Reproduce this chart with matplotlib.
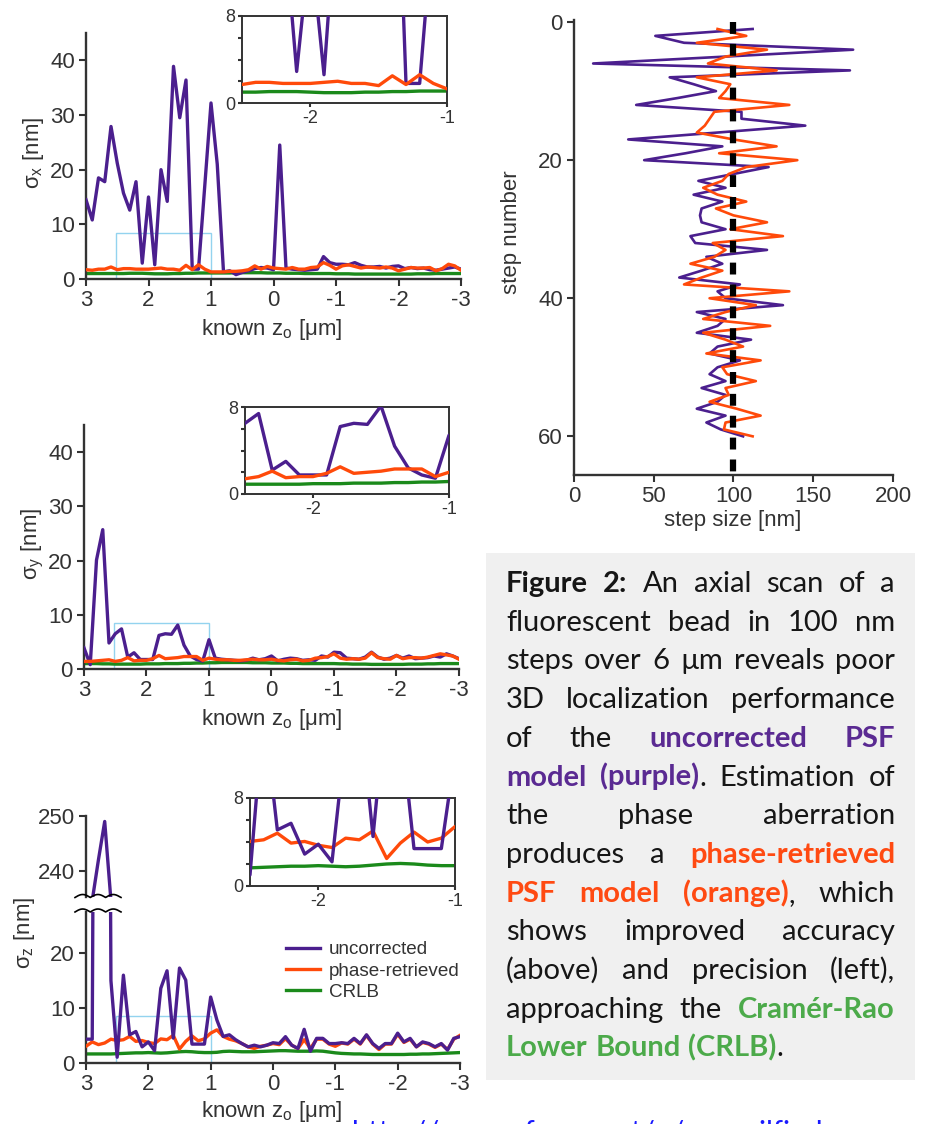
import numpy as np
import matplotlib
matplotlib.use('Agg')
import matplotlib.pyplot as plt
from matplotlib.patches import Rectangle
from matplotlib.lines import Line2D

W, H = 928, 1124

# known z positions, 100 nm steps from 3 to -3 um
z = np.round(np.linspace(3, -3, 61), 1)

sx_unc = [14.5, 10.8, 18.5, 17.8, 27.9, 21.2, 15.7, 12.6, 17.8, 2.9,
          15.0, 2.6, 20.0, 14.2, 38.9, 29.5, 36.4, 1.8, 1.8, 17.0,
          32.2, 21.0, 1.3, 1.5, 0.8, 1.2, 1.5, 1.9, 2.1, 2.0,
          1.7, 24.5, 2.0, 1.8, 1.7, 1.6, 1.7, 1.8, 4.1, 3.0,
          2.7, 2.7, 2.6, 3.0, 2.5, 2.2, 2.2, 2.3, 2.0, 2.3,
          2.4, 1.9, 2.1, 1.9, 2.0, 1.7, 1.6, 1.8, 2.0, 2.2, 1.8]
sx_pr = [1.7, 1.6, 1.8, 1.8, 2.2, 1.7, 1.9, 1.9, 1.8, 1.8,
         1.8, 1.9, 2.0, 1.8, 1.8, 1.6, 2.5, 1.7, 2.6, 1.8,
         1.3, 1.3, 1.3, 1.4, 1.4, 1.5, 1.7, 2.4, 1.8, 2.3,
         2.0, 1.9, 1.8, 2.1, 1.8, 1.8, 2.1, 2.2, 3.0, 2.5,
         1.8, 2.4, 2.6, 2.3, 2.0, 2.2, 2.1, 2.0, 2.2, 2.0,
         1.5, 1.8, 2.1, 2.0, 2.0, 2.1, 1.5, 1.9, 2.7, 2.4, 1.6]
sx_crlb = [1.0, 1.0, 1.0, 1.0, 1.0, 1.0, 1.0, 1.05, 1.05, 1.05,
           1.0, 0.95, 0.95, 0.95, 1.0, 1.0, 1.05, 1.05, 1.1, 1.1,
           1.1, 1.1, 1.1, 1.1, 1.15, 1.15, 1.15, 1.15, 1.15, 1.1,
           1.1, 1.1, 1.05, 1.05, 1.05, 1.0, 1.0, 1.0, 1.0, 1.0,
           0.95, 0.95, 0.95, 0.9, 0.9, 0.9, 0.9, 0.9, 0.9, 0.9,
           0.9, 0.9, 0.9, 0.95, 0.95, 0.95, 1.0, 1.0, 1.0, 1.0, 1.0]

sy_unc = [3.9, 0.8, 20.1, 25.7, 4.8, 6.5, 7.4, 2.2, 3.0, 1.75,
          1.75, 1.75, 6.2, 6.5, 6.4, 8.1, 4.4, 2.4, 1.75, 1.45,
          5.4, 2.0, 1.8, 1.7, 1.6, 1.5, 1.6, 2.0, 1.7, 1.9,
          2.4, 1.5, 1.8, 2.0, 1.9, 1.6, 1.7, 1.6, 2.4, 2.2,
          3.1, 3.0, 2.0, 1.9, 1.8, 2.2, 3.1, 2.2, 1.8, 2.0,
          2.5, 2.0, 2.4, 1.9, 2.0, 2.1, 2.4, 2.2, 2.8, 2.4, 1.9]
sy_pr = [1.4, 1.4, 1.5, 1.6, 1.7, 1.4, 1.6, 2.1, 1.5, 1.6,
         1.6, 1.9, 2.5, 1.9, 2.0, 2.1, 2.3, 2.3, 2.3, 1.6,
         2.0, 1.8, 1.7, 1.7, 1.6, 1.6, 1.7, 1.8, 1.7, 1.7,
         1.8, 1.6, 1.5, 1.7, 1.8, 1.5, 1.6, 2.0, 2.1, 2.3,
         2.8, 2.0, 1.8, 1.9, 1.8, 2.0, 3.0, 2.1, 1.9, 1.8,
         2.5, 1.9, 2.1, 2.1, 2.0, 2.2, 2.5, 2.8, 2.6, 2.4, 1.8]
sy_crlb = [1.0, 1.0, 1.0, 0.95, 0.95, 0.9, 0.9, 0.9, 0.9, 0.9,
           0.95, 0.95, 0.95, 1.0, 1.0, 1.0, 1.05, 1.05, 1.1, 1.1,
           1.15, 1.15, 1.2, 1.2, 1.2, 1.2, 1.2, 1.15, 1.15, 1.15,
           1.1, 1.1, 1.1, 1.05, 1.05, 1.0, 1.0, 1.0, 1.0, 1.0,
           1.0, 0.95, 0.95, 0.9, 0.9, 0.9, 0.85, 0.85, 0.85, 0.85,
           0.85, 0.85, 0.9, 0.9, 0.9, 0.95, 0.95, 1.0, 1.0, 1.0, 1.0]

sz_unc = [4.3, 4.3, 242.0, 249.0, 15.0, 1.0, 16.0, 5.1, 5.7, 2.9,
          3.8, 2.2, 13.6, 16.8, 4.5, 17.3, 15.1, 3.4, 3.4, 3.4,
          12.0, 7.8, 4.8, 5.1, 4.2, 3.5, 2.9, 3.2, 2.9, 3.2,
          3.65, 3.5, 4.76, 3.2, 2.6, 6.1, 2.1, 4.45, 4.45, 3.5,
          3.5, 3.65, 3.5, 4.45, 3.5, 5.1, 3.5, 2.6, 3.5, 3.5,
          5.4, 3.8, 4.45, 2.9, 3.8, 3.5, 2.9, 3.5, 2.3, 4.45, 4.76]
sz_pr = [3.0, 3.8, 3.3, 3.6, 4.3, 4.05, 4.2, 4.8, 3.9, 4.05,
         3.7, 3.5, 4.35, 4.2, 5.0, 2.5, 3.9, 4.9, 4.0, 4.35,
         5.4, 6.0, 4.8, 4.3, 4.0, 3.5, 2.9, 2.6, 3.0, 3.2,
         3.5, 3.3, 4.4, 3.2, 2.6, 4.2, 2.6, 4.3, 4.3, 3.4,
         3.0, 3.6, 3.4, 4.3, 3.4, 5.0, 3.4, 2.4, 3.4, 3.4,
         5.2, 3.7, 4.3, 2.9, 3.7, 3.4, 2.8, 3.4, 2.4, 4.3, 5.0]
sz_crlb = [1.6, 1.6, 1.6, 1.6, 1.6, 1.65, 1.7, 1.75, 1.8, 1.8,
           1.85, 1.8, 1.75, 1.8, 1.9, 2.0, 2.05, 2.0, 1.9, 1.85,
           1.85, 1.9, 2.05, 2.1, 2.05, 2.0, 2.0, 2.0, 2.05, 2.1,
           2.15, 2.2, 2.2, 2.15, 2.1, 2.1, 2.1, 2.15, 2.1, 1.95,
           1.8, 1.7, 1.65, 1.6, 1.6, 1.55, 1.5, 1.5, 1.5, 1.5,
           1.5, 1.5, 1.55, 1.55, 1.6, 1.6, 1.65, 1.7, 1.75, 1.8, 1.85]

# axial scan step sizes
steps = np.arange(1, 61)
step_unc = [112, 51, 69, 175, 95, 12, 173, 60, 75, 89,
            65, 39, 105, 105, 145, 90, 34, 93, 70, 44,
            122, 100, 78, 95, 75, 93, 80, 79, 80, 95,
            73, 76, 121, 83, 93, 80, 66, 104, 90, 95,
            131, 77, 95, 90, 77, 111, 90, 85, 104, 90,
            85, 95, 80, 95, 90, 77, 95, 83, 92, 106]
step_pr = [90, 108, 77, 121, 95, 84, 127, 77, 98, 95,
           91, 135, 88, 85, 82, 77, 100, 127, 91, 140,
           108, 97, 93, 81, 90, 108, 89, 100, 121, 98,
           131, 87, 95, 88, 73, 93, 80, 69, 135, 85,
           114, 95, 81, 123, 81, 95, 106, 83, 117, 93,
           96, 114, 95, 97, 85, 102, 117, 95, 94, 112]

xticks = [3, 2, 1, 0, -1, -2, -3]

PURPLE = '#4b1f8e'
ORANGE = '#ff4a0a'
GREEN = '#1b8a1b'
CYAN = '#93d3ef'
DARK = '#333333'
LW = 2.4
FS = 16

plt.rcParams['font.family'] = ['Liberation Sans', 'DejaVu Sans']
plt.rcParams['mathtext.default'] = 'regular'
plt.rcParams['axes.unicode_minus'] = False

fig = plt.figure(figsize=(W / 100, H / 100), dpi=100)


def box(l, t, r, b):
    return [l / W, 1 - b / H, (r - l) / W, (b - t) / H]


def style(ax, spines=('left', 'bottom'), size=FS, lw=1.7):
    for s in ax.spines:
        ax.spines[s].set_visible(s in spines)
        ax.spines[s].set_linewidth(lw)
        ax.spines[s].set_color(DARK)
    ax.tick_params(direction='out', length=5, width=1.5, colors=DARK,
                   labelsize=size, pad=3)
    ax.patch.set_alpha(0)


def draw_lines(ax, x, unc, pr, crlb, purple_top=False):
    ax.plot(x, crlb, color=GREEN, lw=LW, zorder=2)
    if purple_top:
        ax.plot(x, pr, color=ORANGE, lw=LW, zorder=3)
        ax.plot(x, unc, color=PURPLE, lw=LW, zorder=4)
    else:
        ax.plot(x, unc, color=PURPLE, lw=LW, zorder=3)
        ax.plot(x, pr, color=ORANGE, lw=LW, zorder=4)


def main_panel(rect, unc, pr, crlb, ylim, yticks, purple_top=False):
    ax = fig.add_axes(box(*rect))
    draw_lines(ax, z, unc, pr, crlb, purple_top)
    ax.add_patch(Rectangle((1.0, 0), 1.52, 8.5, fill=False, ec=CYAN,
                           lw=1.0, zorder=1.5))
    ax.set_xlim(3, -3)
    ax.set_ylim(*ylim)
    ax.set_xticks(xticks)
    ax.set_yticks(yticks)
    style(ax)
    return ax


def inset(rect, unc, pr, crlb, purple_top=False):
    ax = fig.add_axes(box(*rect))
    draw_lines(ax, -z, unc, pr, crlb, purple_top)
    ax.set_xlim(-2.5, -1)
    ax.set_ylim(0, 8)
    ax.set_xticks([-2, -1])
    ax.set_yticks([0, 2, 4, 6, 8])
    ax.set_yticklabels(['0', '', '', '', '8'])
    style(ax, spines=('left', 'bottom', 'right', 'top'), size=13, lw=1.4)
    ax.tick_params(length=3, pad=2)
    ax.patch.set_alpha(1)
    ax.patch.set_facecolor('white')
    return ax


# sigma x
main_panel((86, 33, 461, 279), sx_unc, sx_pr, sx_crlb, (0, 45), [0, 10, 20, 30, 40])
inset((242, 16, 447, 103), sx_unc, sx_pr, sx_crlb)

# sigma y
main_panel((84, 425, 459, 669), sy_unc, sy_pr, sy_crlb, (0, 45), [0, 10, 20, 30, 40])
inset((245, 407, 449, 494), sy_unc, sy_pr, sy_crlb)

# sigma z, broken axis
ax3 = main_panel((86, 911.7, 460, 1062.7), sz_unc, sz_pr, sz_crlb, (0, 27.6),
                 [0, 10, 20], purple_top=True)
ax3t = fig.add_axes(box(86, 816, 460, 896.7))
ax3t.plot(z, np.clip(sz_unc, 234.5, None), color=PURPLE, lw=LW)
ax3t.set_xlim(3, -3)
ax3t.set_ylim(235.2, 250)
ax3t.set_xticks([])
ax3t.set_yticks([240, 250])
style(ax3t, spines=('left',))
inset((250, 798, 455, 886), sz_unc, sz_pr, sz_crlb, purple_top=True)

# wavy break marks
xs = np.linspace(75, 121, 200)
for y0 in (897.5, 912.0):
    ys = y0 - 3.0 * np.abs(np.sin(np.pi * (xs - 75) / 15.3))
    fig.add_artist(Line2D(xs / W, 1 - ys / H, color='black', lw=1.2,
                          transform=fig.transFigure))

handles = [Line2D([], [], color=c, lw=LW) for c in (PURPLE, ORANGE, GREEN)]
ax3.legend(handles, ['uncorrected', 'phase-retrieved', 'CRLB'],
           loc='upper left', bbox_to_anchor=(286 / W, 1 - 941 / H),
           bbox_transform=fig.transFigure, frameon=False, fontsize=13.6,
           handlelength=1.8, handletextpad=0.45, labelspacing=0.22,
           borderpad=0, borderaxespad=0, labelcolor=DARK)

# axis labels
lab = dict(fontsize=FS, color=DARK, ha='center', va='center')
for name, xc, yc in (('x', 33, 153), ('y', 33, 544), ('z', 25, 933)):
    fig.text(xc / W, 1 - yc / H, 'σ$_{%s}$ [nm]' % name, rotation=90, **lab)
for yc in (329, 719, 1111):
    fig.text(272 / W, 1 - yc / H, 'known z$_{o}$ [μm]', **lab)

# step size panel
axr = fig.add_axes(box(574, 20, 893, 475))
axr.plot(step_unc, steps, color=PURPLE, lw=1.9, zorder=2)
axr.plot(step_pr, steps, color=ORANGE, lw=1.9, zorder=3)
axr.plot([100, 100], [0, 66], color='black', lw=4.5,
         ls=(0, (1.9, 1.6)), zorder=4)
axr.set_xlim(0, 200)
axr.set_ylim(65.6, -0.3)
axr.set_xticks([0, 50, 100, 150, 200])
axr.set_yticks([0, 20, 40, 60])
style(axr)
fig.text(512 / W, 1 - 232 / H, 'step number', rotation=90, **lab)
fig.text(733 / W, 1 - 520 / H, 'step size [nm]', **lab)

# caption box
fig.add_artist(Rectangle((486 / W, 1 - 1080 / H), 429 / W, 527 / H,
                         transform=fig.transFigure, facecolor='#f0f0f0',
                         edgecolor='none', zorder=0))

caption = [
    [("Figure 2:", "b"), (" An axial scan of a", "n")],
    [("fluorescent bead in 100 nm", "n")],
    [("steps over 6 µm reveals poor", "n")],
    [("3D localization performance", "n")],
    [("of the ", "n"), ("uncorrected PSF", "p")],
    [("model (purple)", "p"), (". Estimation of", "n")],
    [("the phase aberration", "n")],
    [("produces a ", "n"), ("phase-retrieved", "o")],
    [("PSF model (orange)", "o"), (", which", "n")],
    [("shows improved accuracy", "n")],
    [("(above) and precision (left),", "n")],
    [("approaching the ", "n"), ("Cramér-Rao", "g")],
    [("Lower Bound (CRLB)", "g"), (".", "n")],
]
STY = {'n': dict(color='#161616', weight='normal'),
       'b': dict(color='#161616', weight='bold'),
       'p': dict(color='#5a2a92', weight='bold'),
       'o': dict(color='#ff4a12', weight='bold'),
       'g': dict(color='#4caa4a', weight='bold')}
CAP_FAMILY = ['Lato', 'DejaVu Sans']


def split_words(line):
    words = [[]]
    for txt, st in line:
        for j, part in enumerate(txt.split(' ')):
            if j > 0:
                words.append([])
            if part:
                words[-1].append((part, st))
    return [w for w in words if w]


renderer = fig.canvas.get_renderer()


def text_width(s, st, fs):
    t = fig.text(0, 0, s, fontsize=fs, family=CAP_FAMILY, **STY[st])
    w = t.get_window_extent(renderer).width
    t.remove()
    return w


X0, X1 = 506, 895
# pick a font size so the tightest justified line still fits
fs0 = 20
space0 = text_width('a a', 'n', fs0) - text_width('aa', 'n', fs0)
widest = 0
for line in caption[:-1]:
    words = split_words(line)
    wsum = sum(text_width(s, st, fs0) for w in words for s, st in w)
    widest = max(widest, wsum + space0 * (len(words) - 1))
CAP_FS = min(21.0, fs0 * (X1 - X0) * 0.985 / widest)
space = text_width('a a', 'n', CAP_FS) - text_width('aa', 'n', CAP_FS)

for k, line in enumerate(caption):
    yb = 592 + 38.7 * k
    items = []
    for w in split_words(line):
        runs = []
        for s, st in w:
            t = fig.text(0, 1 - yb / H, s, fontsize=CAP_FS, family=CAP_FAMILY,
                         va='baseline', **STY[st])
            runs.append((t, t.get_window_extent(renderer).width))
        items.append(runs)
    widths = [sum(wd for _, wd in runs) for runs in items]
    if k == len(caption) - 1 or len(items) < 2:
        gap = space
    else:
        gap = (X1 - X0 - sum(widths)) / (len(items) - 1)
    x = X0
    for runs, wsum in zip(items, widths):
        xx = x
        for t, wd in runs:
            t.set_position((xx / W, 1 - yb / H))
            xx += wd
        x += wsum + gap

# link under the caption, cut by the page edge as in the source slide
fig.text(352 / W, 1 - 1141 / H, 'http://sourceforge.net/p/smmailfind',
         fontsize=21, family=CAP_FAMILY, color='#1a1aff', va='baseline')

fig.savefig('out.png', dpi=100)
